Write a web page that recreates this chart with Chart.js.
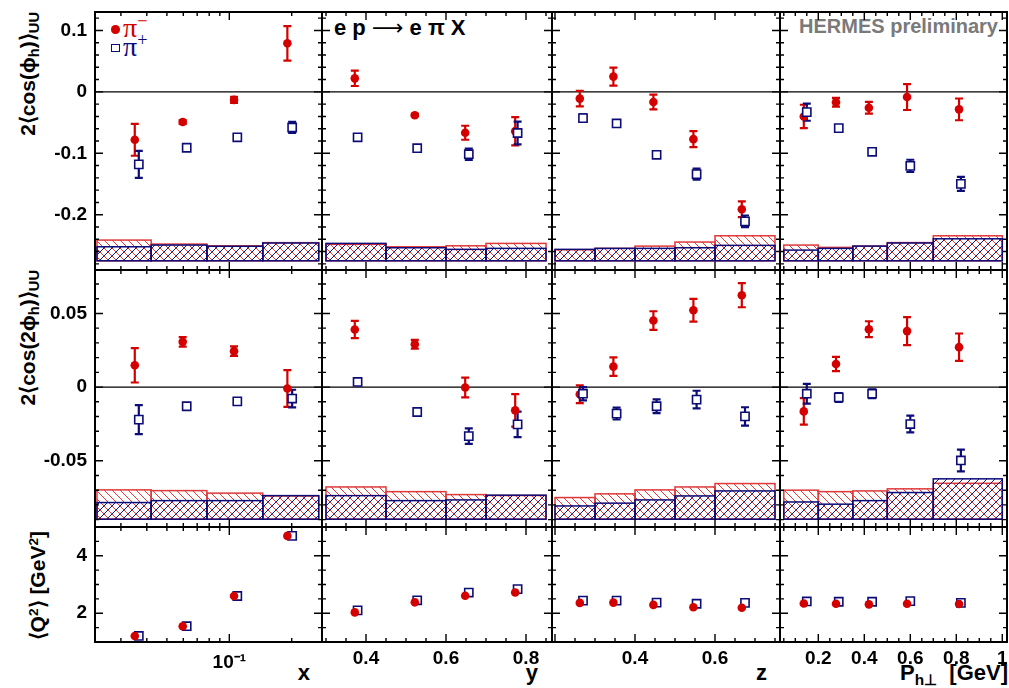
<!DOCTYPE html>
<html>
<head>
<meta charset="utf-8">
<title>HERMES cos(phi) / cos(2phi) moments</title>
<script src="https://cdn.jsdelivr.net/npm/chart.js@4.4.1/dist/chart.umd.min.js"></script>
<style>
  html, body { margin: 0; padding: 0; background: #fff; }
  body { position: relative; width: 1009px; height: 688px; overflow: hidden;
         font-family: "Liberation Sans", Arial, sans-serif; }
  canvas { position: absolute; }
  .txt { position: absolute; white-space: nowrap; font-weight: bold; line-height: 1; color: #000; }
  .yt { position: absolute; white-space: nowrap; font-weight: bold; font-size: 21px; line-height: 27px;
        text-align: right; transform-origin: 0 0; transform: rotate(-90deg); }
  sub { font-size: 70%; vertical-align: -0.3em; line-height: 0; }
  sup { font-size: 65%; vertical-align: 0.55em; line-height: 0; }
  .mk { position: absolute; box-sizing: border-box; }
  .arr { font-family: "DejaVu Sans", sans-serif; font-weight: normal; }
</style>
</head>
<body>

<!-- y titles -->
<div class="yt" style="left:14px;top:262px;width:250px">2⟨cos(ϕ<sub>h</sub>)⟩<sub>UU</sub></div>
<div class="yt" style="left:14px;top:520px;width:250px">2⟨cos(2ϕ<sub>h</sub>)⟩<sub>UU</sub></div>
<div class="yt" style="left:24px;top:731px;width:200px">⟨Q<sup>2</sup>⟩ [GeV<sup>2</sup>]</div>

<!-- x titles -->
<div class="txt" style="right:699px;top:662px;font-size:22px">x</div>
<div class="txt" style="right:471px;top:662px;font-size:22px">y</div>
<div class="txt" style="right:242px;top:662px;font-size:22px">z</div>
<div class="txt" style="right:1px;top:662px;font-size:22px">P<sub>h⊥</sub>&nbsp; [GeV]</div>

<!-- legend and labels -->
<div class="mk" style="left:111px;top:25px;width:8.5px;height:8.5px;border-radius:50%;background:#d40000"></div>
<div class="txt" style="left:123px;top:14px;font-size:28px;font-weight:normal;font-family:'Liberation Serif',serif;color:#d40000">π<sup>−</sup></div>
<div class="mk" style="left:111px;top:43.5px;width:8.5px;height:8.5px;border:1.6px solid #0c0c78;background:#fff"></div>
<div class="txt" style="left:123px;top:33px;font-size:28px;font-weight:normal;font-family:'Liberation Serif',serif;color:#0c0c78">π<sup>+</sup></div>
<div class="txt" style="left:334px;top:17px;font-size:22px">e p <span class="arr">⟶</span> e π X</div>
<div class="txt" style="right:11px;top:16px;font-size:20px;color:#7a7a7a">HERMES preliminary</div>

<script>
// ---------- bin centres (pi-, pi+) ----------
const xPiM  = [0.035, 0.0596, 0.1054, 0.1906];
const xPiP  = [0.0366, 0.0623, 0.1093, 0.201];
const yPiM  = [0.372, 0.522, 0.648, 0.773];
const yPiP  = [0.379, 0.528, 0.657, 0.779];
const zPiM  = [0.262, 0.346, 0.446, 0.546, 0.667];
const zPiP  = [0.27, 0.354, 0.454, 0.554, 0.675];
const ptPiM = [0.137, 0.277, 0.42, 0.586, 0.812];
const ptPiP = [0.15, 0.289, 0.434, 0.6, 0.82];

// ---------- bin edges (systematic bands) ----------
const xEdges  = [0.023, 0.042, 0.078, 0.145, 0.27];
const yEdges  = [0.3, 0.45, 0.6, 0.7, 0.85];
const zEdges  = [0.2, 0.3, 0.4, 0.5, 0.6, 0.75];
const ptEdges = [0.05, 0.2, 0.35, 0.5, 0.7, 1.0];

// ---------- 2<cos(phi_h)>_UU ----------
const cos1X_m = [-0.078, -0.049, -0.013, 0.079],  cos1X_mErr = [0.026, 0.003, 0.005, 0.028];
const cos1X_p = [-0.118, -0.091, -0.074, -0.058], cos1X_pErr = [0.022, 0.002, 0.002, 0.009];
const cos1X_mSys = [0.0337, 0.0272, 0.0244, 0.0295], cos1X_pSys = [0.0228, 0.0256, 0.0236, 0.0290];

const cos1Y_m = [0.022, -0.038, -0.0666, -0.064],   cos1Y_mErr = [0.0125, 0.002, 0.0114, 0.023];
const cos1Y_p = [-0.074, -0.0917, -0.1015, -0.067], cos1Y_pErr = [0.002, 0.002, 0.0092, 0.0185];
const cos1Y_mSys = [0.0267, 0.0228, 0.0244, 0.0283], cos1Y_pSys = [0.0283, 0.0212, 0.0186, 0.0202];

const cos1Z_m = [-0.011, 0.0248, -0.0166, -0.077, -0.191],    cos1Z_mErr = [0.0125, 0.0145, 0.012, 0.013, 0.0128];
const cos1Z_p = [-0.0427, -0.0514, -0.1025, -0.134, -0.2108], cos1Z_pErr = [0.006, 0.004, 0.004, 0.009, 0.0095];
const cos1Z_mSys = [0.0180, 0.0202, 0.0239, 0.0305, 0.0407], cos1Z_pSys = [0.0186, 0.0202, 0.0202, 0.0212, 0.0251];

const cos1Pt_m = [-0.040, -0.017, -0.0258, -0.0085, -0.0285], cos1Pt_mErr = [0.019, 0.0071, 0.0095, 0.021, 0.0177];
const cos1Pt_p = [-0.033, -0.059, -0.0976, -0.1205, -0.1498], cos1Pt_pErr = [0.014, 0.004, 0.002, 0.01, 0.0114];
const cos1Pt_mSys = [0.0256, 0.0218, 0.0239, 0.0296, 0.0407], cos1Pt_pSys = [0.0174, 0.0202, 0.0239, 0.0290, 0.0358];

// ---------- 2<cos(2phi_h)>_UU ----------
const cos2X_m = [0.0148, 0.0307, 0.0244, -0.001],   cos2X_mErr = [0.0117, 0.0032, 0.0032, 0.0125];
const cos2X_p = [-0.0221, -0.013, -0.0097, -0.0078], cos2X_pErr = [0.0098, 0.002, 0.002, 0.006];
const cos2X_mSys = [0.0199, 0.0194, 0.0177, 0.0158], cos2X_pSys = [0.0113, 0.0126, 0.0126, 0.0160];

const cos2Y_m = [0.0391, 0.0291, -0.0003, -0.0158], cos2Y_mErr = [0.0058, 0.003, 0.0067, 0.011];
const cos2Y_p = [0.0035, -0.0169, -0.0333, -0.0253], cos2Y_pErr = [0.002, 0.002, 0.0052, 0.0087];
const cos2Y_mSys = [0.0219, 0.0187, 0.0167, 0.0161], cos2Y_pSys = [0.0160, 0.0126, 0.0131, 0.0163];

const cos2Z_m = [-0.0049, 0.0139, 0.0452, 0.0522, 0.0624], cos2Z_mErr = [0.006, 0.0063, 0.0063, 0.0077, 0.0082];
const cos2Z_p = [-0.0045, -0.018, -0.013, -0.0085, -0.0199], cos2Z_pErr = [0.0045, 0.004, 0.0047, 0.006, 0.0062];
const cos2Z_mSys = [0.0147, 0.0172, 0.0199, 0.0219, 0.0242], cos2Z_pSys = [0.0090, 0.0109, 0.0131, 0.0158, 0.0192];

const cos2Pt_m = [-0.0165, 0.0157, 0.0393, 0.038, 0.0271], cos2Pt_mErr = [0.009, 0.0048, 0.0054, 0.0095, 0.0093];
const cos2Pt_p = [-0.0045, -0.007, -0.0045, -0.0251, -0.0498], cos2Pt_pErr = [0.0067, 0.003, 0.003, 0.0057, 0.0074];
const cos2Pt_mSys = [0.0197, 0.0187, 0.0192, 0.0206, 0.0244], cos2Pt_pSys = [0.0117, 0.0102, 0.0126, 0.0181, 0.0274];

// ---------- <Q^2> [GeV^2] ----------
const q2X_m  = [1.21, 1.55, 2.6, 4.69],        q2X_p  = [1.21, 1.55, 2.6, 4.69];
const q2Y_m  = [2.03, 2.38, 2.61, 2.72],       q2Y_p  = [2.10, 2.45, 2.72, 2.84];
const q2Z_m  = [2.36, 2.37, 2.29, 2.21, 2.19], q2Z_p  = [2.44, 2.44, 2.37, 2.33, 2.36];
const q2Pt_m = [2.34, 2.33, 2.31, 2.33, 2.32], q2Pt_p = [2.41, 2.40, 2.40, 2.42, 2.36];

// ---------- tick values / labels ----------
const xTicks = [0.1], xTickLabels = ['10⁻¹'];
const xMinor = [0.03, 0.04, 0.05, 0.06, 0.07, 0.08, 0.09, 0.2];
const yTicks = [0.4, 0.6, 0.8], yTickLabels = ['0.4', '0.6', '0.8'];
const yMinor = [0.3, 0.35, 0.45, 0.5, 0.55, 0.65, 0.7, 0.75, 0.85];
const zTicks = [0.2, 0.4, 0.6], zTickLabels = ['', '0.4', '0.6'];
const zMinor = [0.25, 0.3, 0.35, 0.45, 0.5, 0.55, 0.65, 0.7, 0.75];
const ptTicks = [0.2, 0.4, 0.6, 0.8, 1], ptTickLabels = ['0.2', '0.4', '0.6', '0.8', '1'];
const ptMinor = [0.05, 0.1, 0.15, 0.25, 0.3, 0.35, 0.45, 0.5, 0.55, 0.65, 0.7, 0.75, 0.85, 0.9, 0.95];
const cos1Ticks = [-0.2, -0.1, 0, 0.1], cos1TickLabels = ['-0.2', '-0.1', '0', '0.1'];
const cos1Minor = [-0.28, -0.26, -0.24, -0.22, -0.18, -0.16, -0.14, -0.12, -0.08, -0.06, -0.04, -0.02, 0.02, 0.04, 0.06, 0.08, 0.12];
const cos2Ticks = [-0.05, 0, 0.05], cos2TickLabels = ['-0.05', '0', '0.05'];
const cos2Minor = [-0.09, -0.08, -0.07, -0.06, -0.04, -0.03, -0.02, -0.01, 0.01, 0.02, 0.03, 0.04, 0.06, 0.07];
const q2Ticks = [2, 4], q2TickLabels = ['2', '4'];
const q2Minor = [1.5, 2.5, 3, 3.5, 4.5];

// ---------- layout / style ----------
const RED = '#d40000', NAVY = '#0c0c78';
const RED_HATCH = '#e0393a', NAVY_HATCH = '#161680';
const FONT = "'Liberation Sans', Arial, sans-serif";
const COL_L = [95, 322, 552, 780], COL_R = [322, 552, 780, 1007];
const ROW_T = [12, 270, 527], ROW_B = [270, 527, 642];
const PAD = 4;

const COLS = [
  { type: 'logarithmic', min: 0.0225, max: 0.28, pos: [xPiM, xPiP], edges: xEdges, ticks: xTicks, labels: xTickLabels, minor: xMinor, lpad: 9 },
  { type: 'linear', min: 0.29, max: 0.865, pos: [yPiM, yPiP], edges: yEdges, ticks: yTicks, labels: yTickLabels, minor: yMinor, lpad: 5 },
  { type: 'linear', min: 0.1925, max: 0.7625, pos: [zPiM, zPiP], edges: zEdges, ticks: zTicks, labels: zTickLabels, minor: zMinor, lpad: 5 },
  { type: 'linear', min: 0.0335, max: 1.0205, pos: [ptPiM, ptPiP], edges: ptEdges, ticks: ptTicks, labels: ptTickLabels, minor: ptMinor, lpad: 5 }
];
const ROWS = [
  { min: -0.29, max: 0.13, base: -0.275, ticks: cos1Ticks, labels: cos1TickLabels, minor: cos1Minor },
  { min: -0.095, max: 0.0795, base: -0.0897, ticks: cos2Ticks, labels: cos2TickLabels, minor: cos2Minor },
  { min: 1, max: 5, base: null, ticks: q2Ticks, labels: q2TickLabels, minor: q2Minor }
];
// [pi- values, pi- errors, pi+ values, pi+ errors, pi- sys, pi+ sys]
const CELLS = [
  [
    [cos1X_m, cos1X_mErr, cos1X_p, cos1X_pErr, cos1X_mSys, cos1X_pSys],
    [cos1Y_m, cos1Y_mErr, cos1Y_p, cos1Y_pErr, cos1Y_mSys, cos1Y_pSys],
    [cos1Z_m, cos1Z_mErr, cos1Z_p, cos1Z_pErr, cos1Z_mSys, cos1Z_pSys],
    [cos1Pt_m, cos1Pt_mErr, cos1Pt_p, cos1Pt_pErr, cos1Pt_mSys, cos1Pt_pSys]
  ],
  [
    [cos2X_m, cos2X_mErr, cos2X_p, cos2X_pErr, cos2X_mSys, cos2X_pSys],
    [cos2Y_m, cos2Y_mErr, cos2Y_p, cos2Y_pErr, cos2Y_mSys, cos2Y_pSys],
    [cos2Z_m, cos2Z_mErr, cos2Z_p, cos2Z_pErr, cos2Z_mSys, cos2Z_pSys],
    [cos2Pt_m, cos2Pt_mErr, cos2Pt_p, cos2Pt_pErr, cos2Pt_mSys, cos2Pt_pSys]
  ],
  [
    [q2X_m, null, q2X_p, null, null, null],
    [q2Y_m, null, q2Y_p, null, null, null],
    [q2Z_m, null, q2Z_p, null, null, null],
    [q2Pt_m, null, q2Pt_p, null, null, null]
  ]
];

// hatch tile: dir > 0 -> '/', dir < 0 -> '\'
function hatchTile(color, dir) {
  const c = document.createElement('canvas');
  c.width = c.height = 8;
  const g = c.getContext('2d');
  g.strokeStyle = color;
  g.lineWidth = 1;
  g.beginPath();
  if (dir > 0) {
    g.moveTo(0, 8); g.lineTo(8, 0);
    g.moveTo(-2, 2); g.lineTo(2, -2);
    g.moveTo(6, 10); g.lineTo(10, 6);
  } else {
    g.moveTo(0, 0); g.lineTo(8, 8);
    g.moveTo(-2, 6); g.lineTo(2, 10);
    g.moveTo(6, -2); g.lineTo(10, 2);
  }
  g.stroke();
  return c;
}
const redTile = hatchTile(RED_HATCH, -1);
const navyTile = hatchTile(NAVY_HATCH, 1);

// bands, zero line, error bars, frame and inward ticks
const panelPlugin = {
  id: 'panel',
  beforeDatasetsDraw(chart, args, o) {
    const ctx = chart.ctx, xs = chart.scales.x, ys = chart.scales.y, a = chart.chartArea;
    ctx.save();
    ctx.beginPath();
    ctx.rect(a.left, a.top, a.right - a.left, a.bottom - a.top);
    ctx.clip();

    const band = (sys, tile, line) => {
      const pat = ctx.createPattern(tile, 'repeat');
      for (let i = 0; i < sys.length; i++) {
        const x1 = xs.getPixelForValue(o.edges[i]), x2 = xs.getPixelForValue(o.edges[i + 1]);
        const yb = ys.getPixelForValue(o.base), yt = ys.getPixelForValue(o.base + sys[i]);
        ctx.fillStyle = pat;
        ctx.fillRect(x1, yt, x2 - x1, yb - yt);
        ctx.strokeStyle = line;
        ctx.lineWidth = 1.5;
        ctx.strokeRect(x1, yt, x2 - x1, yb - yt);
      }
    };
    if (o.sysM) band(o.sysM, redTile, RED_HATCH);
    if (o.sysP) band(o.sysP, navyTile, NAVY);

    if (ys.min < 0 && ys.max > 0) {
      const y0 = ys.getPixelForValue(0);
      ctx.strokeStyle = '#000';
      ctx.lineWidth = 1.2;
      ctx.beginPath();
      ctx.moveTo(a.left, y0); ctx.lineTo(a.right, y0);
      ctx.stroke();
    }

    for (let i = chart.data.datasets.length - 1; i >= 0; i--) {
      const ds = chart.data.datasets[i];
      if (!ds.errors) continue;
      chart.getDatasetMeta(i).data.forEach((el, j) => {
        const v = ds.data[j].y, e = ds.errors[j];
        const y1 = ys.getPixelForValue(v - e), y2 = ys.getPixelForValue(v + e);
        ctx.strokeStyle = ds.pointBorderColor;
        ctx.lineWidth = 2.2;
        ctx.beginPath();
        ctx.moveTo(el.x, y1); ctx.lineTo(el.x, y2);
        ctx.moveTo(el.x - 4, y1); ctx.lineTo(el.x + 4, y1);
        ctx.moveTo(el.x - 4, y2); ctx.lineTo(el.x + 4, y2);
        ctx.stroke();
      });
    }
    ctx.restore();
  },
  afterDraw(chart, args, o) {
    const ctx = chart.ctx, xs = chart.scales.x, ys = chart.scales.y, a = chart.chartArea;
    ctx.save();
    ctx.strokeStyle = '#000';
    ctx.lineWidth = 1.4;
    ctx.beginPath();
    const xt = (vals, len) => vals.forEach(v => {
      const px = xs.getPixelForValue(v);
      ctx.moveTo(px, a.bottom); ctx.lineTo(px, a.bottom - len);
      ctx.moveTo(px, a.top); ctx.lineTo(px, a.top + len);
    });
    const yt = (vals, len) => vals.forEach(v => {
      const py = ys.getPixelForValue(v);
      ctx.moveTo(a.left, py); ctx.lineTo(a.left + len, py);
      ctx.moveTo(a.right, py); ctx.lineTo(a.right - len, py);
    });
    xt(o.xMajor, 8); xt(o.xMinor, 4);
    yt(o.yMajor, 8); yt(o.yMinor, 4);
    ctx.stroke();
    ctx.lineWidth = 2;
    ctx.strokeRect(a.left, a.top, a.right - a.left, a.bottom - a.top);
    ctx.restore();
  }
};

function points(xv, yv) {
  return xv.map((x, i) => ({ x: x, y: yv[i] }));
}

function makePanel(r, c) {
  const col = COLS[c], row = ROWS[r], cell = CELLS[r][c];
  const L = COL_L[c], R = COL_R[c], T = ROW_T[r], B = ROW_B[r];
  const showX = r === 2, showY = c === 0;
  const cl = showY ? 0 : L - PAD;
  const cr = Math.min(1009, R + PAD);
  const ct = T - PAD;
  const cb = showX ? 688 : B + PAD;

  const cv = document.createElement('canvas');
  cv.width = cr - cl;
  cv.height = cb - ct;
  cv.style.left = cl + 'px';
  cv.style.top = ct + 'px';
  document.body.appendChild(cv);

  const dsM = {
    label: 'π−', data: points(col.pos[0], cell[0]), errors: cell[1],
    pointStyle: 'circle', pointRadius: 4.3, pointBackgroundColor: RED,
    pointBorderColor: RED, pointBorderWidth: 0
  };
  const dsP = {
    label: 'π+', data: points(col.pos[1], cell[2]), errors: cell[3],
    pointStyle: 'rect', pointRadius: 5.8, pointBackgroundColor: '#fff',
    pointBorderColor: NAVY, pointBorderWidth: 1.6
  };
  const datasets = r === 2 ? [dsM, dsP] : [dsP, dsM];

  const tickFont = { family: FONT, size: 19, weight: 'bold' };

  new Chart(cv, {
    type: 'scatter',
    data: { datasets: datasets },
    options: {
      responsive: false,
      animation: false,
      events: [],
      layout: {
        autoPadding: false,
        padding: { left: showY ? 0 : L - cl, right: cr - R, top: T - ct, bottom: showX ? 0 : cb - B }
      },
      scales: {
        x: {
          type: col.type, min: col.min, max: col.max, bounds: 'data',
          display: showX,
          grid: { display: false, drawTicks: false },
          border: { display: false },
          afterBuildTicks: s => { s.ticks = col.ticks.map(v => ({ value: v })); },
          afterFit: s => {
            if (!showX) return;
            s.height = 688 - B; s.paddingLeft = 0; s.paddingRight = 0;
          },
          ticks: {
            autoSkip: false, maxRotation: 0, minRotation: 0, padding: col.lpad,
            color: '#000', font: tickFont,
            callback: (v, i) => col.labels[i]
          }
        },
        y: {
          type: 'linear', min: row.min, max: row.max, bounds: 'data',
          display: showY,
          grid: { display: false, drawTicks: false },
          border: { display: false },
          afterBuildTicks: s => { s.ticks = row.ticks.map(v => ({ value: v })); },
          afterFit: s => {
            if (!showY) return;
            s.width = L; s.paddingTop = 0; s.paddingBottom = 0;
          },
          ticks: {
            autoSkip: false, padding: 8, color: '#000', font: tickFont,
            callback: (v, i) => row.labels[i]
          }
        }
      },
      plugins: {
        legend: { display: false },
        tooltip: { enabled: false },
        panel: {
          edges: col.edges, base: row.base, sysM: cell[4], sysP: cell[5],
          xMajor: col.ticks, xMinor: col.minor, yMajor: row.ticks, yMinor: row.minor
        }
      }
    },
    plugins: [panelPlugin]
  });
}

for (let r = 0; r < 3; r++) {
  for (let c = 0; c < 4; c++) makePanel(r, c);
}
</script>
</body>
</html>
